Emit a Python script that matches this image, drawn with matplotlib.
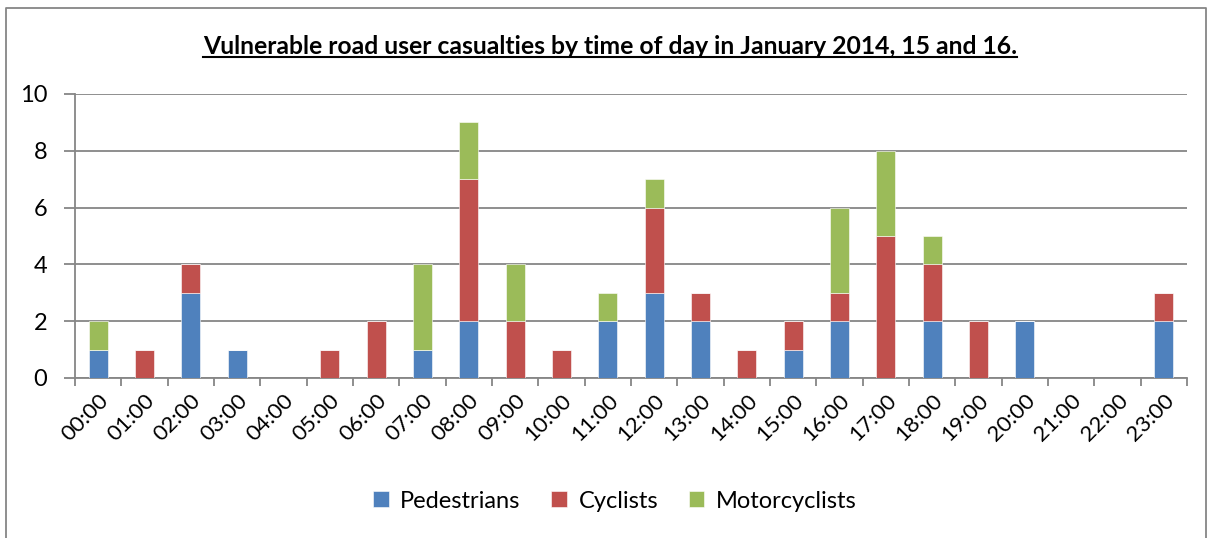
import numpy as np
import matplotlib
matplotlib.use("Agg")
import matplotlib.pyplot as plt
from matplotlib.lines import Line2D

plt.rcParams['font.family'] = ['Lato', 'DejaVu Sans']

hours = [f"{h:02d}:00" for h in range(24)]
pedestrians = [1, 0, 3, 1, 0, 0, 0, 1, 2, 0, 0, 2, 3, 2, 0, 1, 2, 0, 2, 0, 2, 0, 0, 2]
cyclists = [0, 1, 1, 0, 0, 1, 2, 0, 5, 2, 1, 0, 3, 1, 1, 1, 1, 5, 2, 2, 0, 0, 0, 1]
motorcyclists = [1, 0, 0, 0, 0, 0, 0, 3, 2, 2, 0, 1, 1, 0, 0, 0, 3, 3, 1, 0, 0, 0, 0, 0]

colors = ['#4F81BD', '#C0504D', '#9BBB59']
names = ['Pedestrians', 'Cyclists', 'Motorcyclists']

fig = plt.figure(figsize=(12.13, 5.38), dpi=100)
ax = fig.add_axes([75/1213, 1-378/538, (1187-75)/1213, (378-94)/538])

x = np.arange(len(hours))
bottom = np.zeros(len(hours))
for vals, c, n in zip([pedestrians, cyclists, motorcyclists], colors, names):
    ax.bar(x, vals, 0.41, bottom=bottom, color=c, label=n, zorder=3,
           edgecolor='white', linewidth=0.4)
    bottom += np.array(vals)

ax.set_xlim(-0.5, 23.5)
ax.set_ylim(0, 10)
ax.set_yticks(range(0, 11, 2))
ax.yaxis.grid(True, color='#868686', linewidth=1.3, zorder=0)
ax.set_xticks(np.arange(-0.5, 24, 1))
ax.set_xticklabels([])
ax.set_xticks(x, minor=True)
ax.set_xticklabels(hours, minor=True, rotation=45, ha='right', va='top',
                   rotation_mode='anchor', fontsize=16)
ax.tick_params(axis='x', which='minor', length=0, pad=9)
ax.tick_params(axis='x', which='major', length=6, color='#868686', width=1.3)
ax.tick_params(axis='y', length=8, color='#868686', width=1.3, labelsize=17, pad=12)
for s in ['top', 'right']:
    ax.spines[s].set_visible(False)
for s in ['left', 'bottom']:
    ax.spines[s].set_color('#868686')
    ax.spines[s].set_linewidth(1.3)

ax.legend(loc='center', bbox_to_anchor=(615/1213, 1-501/538),
          bbox_transform=fig.transFigure, ncol=3, frameon=False,
          fontsize=17, handlelength=0.65, handleheight=0.65,
          columnspacing=1.3, handletextpad=0.5)

title = fig.text(610/1213, 1-47/538,
                 'Vulnerable road user casualties by time of day in January 2014, 15 and 16.',
                 ha='center', va='center', fontsize=17.8, fontweight='bold')
fig.canvas.draw()
bb = title.get_window_extent().transformed(fig.transFigure.inverted())
fig.add_artist(Line2D([bb.x0, bb.x1], [bb.y0 + 0.002, bb.y0 + 0.002],
                      transform=fig.transFigure, color='black', linewidth=1.5))

# chart border
fig.add_artist(Line2D([6/1213, 6/1213, 1206/1213, 1206/1213],
                      [0, 1-8/538, 1-8/538, 0], transform=fig.transFigure,
                      color='#868686', linewidth=1.3))

fig.savefig('out.png', dpi=100)
